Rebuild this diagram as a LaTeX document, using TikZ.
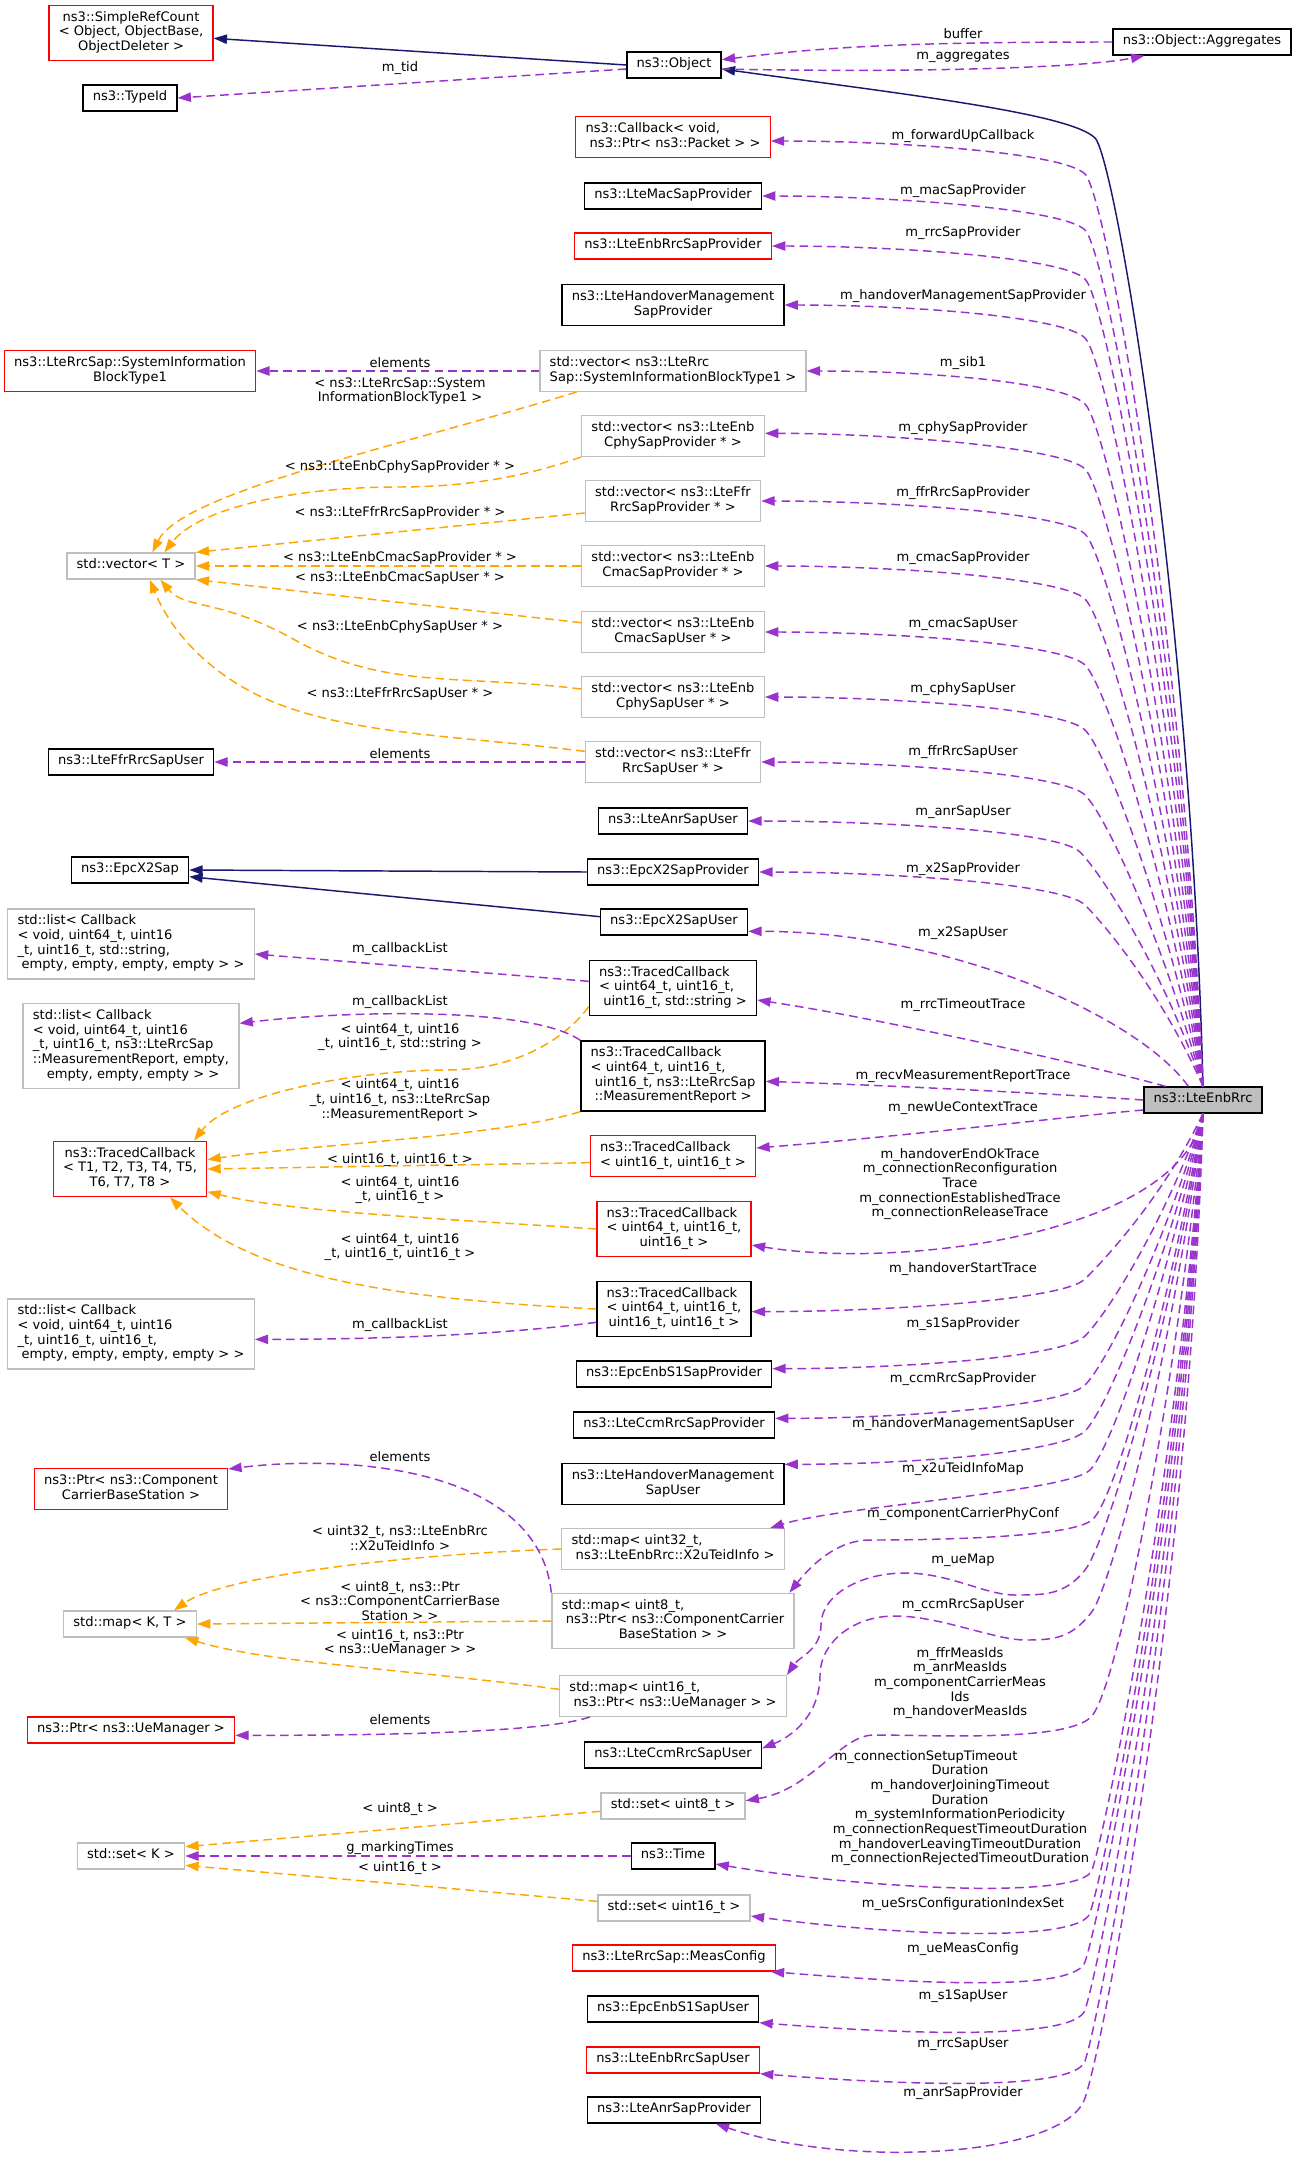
\documentclass[tikz,border=0pt]{standalone}
\usepackage{fontspec}
\setmainfont{DejaVu Sans}
\usetikzlibrary{arrows.meta}
\definecolor{membcol}{HTML}{9A32CD}
\definecolor{tmplcol}{HTML}{FFA500}
\definecolor{inhcol}{HTML}{191970}
\definecolor{extcol}{HTML}{BFBFBF}
\newcommand{\dxf}{\fontsize{9.8}{11}\selectfont}
\newcommand{\txtl}[1]{\begin{tabular}{@{}l@{}}#1\end{tabular}}
\newcommand{\txtc}[1]{\begin{tabular}{@{}c@{}}#1\end{tabular}}
\newcommand{\lastc}[1]{\multicolumn{1}{@{}c@{}}{#1}}

\begin{document}
\begin{tikzpicture}[
    x=0.75pt, y=-0.75pt,
    font=\dxf,
    cls/.style={draw, fill=white, line width=1pt, inner xsep=7.3pt, inner ysep=4.25pt},
    trunc/.style={draw=red},
    extern/.style={draw=extcol},
    memb/.style={draw=membcol, line width=1.1pt, dash pattern=on 6.5pt off 3.8pt,
                 -{Triangle[length=10pt, width=7pt]}},
    tmpl/.style={memb, draw=tmplcol},
    inh/.style={draw=inhcol, line width=1.1pt, -{Triangle[length=10pt, width=7pt]}},
    lbl/.style={align=center, inner sep=0pt}
  ]
  \useasboundingbox (0,0) rectangle (1296,2163);

  % --- left column ---
  \node[cls, trunc] (src) at (131,33) {\txtc{ns3::SimpleRefCount\\< Object, ObjectBase,\\ObjectDeleter >}};
  \node[cls] (tid) at (130,98) {\txtl{ns3::TypeId}};
  \node[cls, trunc] (sib) at (130,371) {\txtl{ns3::LteRrcSap::SystemInformation\\\lastc{BlockType1}}};
  \node[cls, extern] (vecT) at (131,566) {\txtl{std::vector< T >}};
  \node[cls] (lffru) at (131,762) {\txtl{ns3::LteFfrRrcSapUser}};
  \node[cls] (x2sap) at (130,870) {\txtl{ns3::EpcX2Sap}};
  \node[cls, extern] (list1) at (131,944) {\txtl{std::list< Callback\\< void, uint64\_t, uint16\\\_t, uint16\_t, std::string,\\\lastc{\ empty, empty, empty, empty > >}}};
  \node[cls, extern] (list2) at (131,1046) {\txtl{std::list< Callback\\< void, uint64\_t, uint16\\\_t, uint16\_t, ns3::LteRrcSap\\::MeasurementReport, empty,\\\lastc{\ empty, empty, empty > >}}};
  \node[cls, trunc] (tct) at (130,1169) {\txtc{ns3::TracedCallback\\< T1, T2, T3, T4, T5,\\T6, T7, T8 >}};
  \node[cls, extern] (list3) at (131,1334) {\txtl{std::list< Callback\\< void, uint64\_t, uint16\\\_t, uint16\_t, uint16\_t,\\\lastc{\ empty, empty, empty, empty > >}}};
  \node[cls, trunc] (pcc) at (131,1489) {\txtc{ns3::Ptr< ns3::Component\\CarrierBaseStation >}};
  \node[cls, extern] (mapKT) at (130,1624) {\txtl{std::map< K, T >}};
  \node[cls, trunc] (pum) at (131,1730) {\txtl{ns3::Ptr< ns3::UeManager >}};
  \node[cls, extern] (setK) at (131,1856) {\txtl{std::set< K >}};

  % --- middle column ---
  \node[cls] (obj) at (674,65) {\txtl{ns3::Object}};
  \node[cls, trunc] (cb) at (673,137) {\txtl{ns3::Callback< void,\\\lastc{\ ns3::Ptr< ns3::Packet > >}}};
  \node[cls] (macp) at (673,196) {\txtl{ns3::LteMacSapProvider}};
  \node[cls, trunc] (rrcp) at (673,246) {\txtl{ns3::LteEnbRrcSapProvider}};
  \node[cls] (hmp) at (673,305) {\txtl{ns3::LteHandoverManagement\\\lastc{SapProvider}}};
  \node[cls, extern] (vsib) at (673,371) {\txtl{std::vector< ns3::LteRrc\\\lastc{Sap::SystemInformationBlockType1 >}}};
  \node[cls, extern] (vcphyp) at (673,436) {\txtl{std::vector< ns3::LteEnb\\\lastc{CphySapProvider * >}}};
  \node[cls, extern] (vffrp) at (673,501) {\txtl{std::vector< ns3::LteFfr\\\lastc{RrcSapProvider * >}}};
  \node[cls, extern] (vcmacp) at (673,566) {\txtl{std::vector< ns3::LteEnb\\\lastc{CmacSapProvider * >}}};
  \node[cls, extern] (vcmacu) at (673,632) {\txtl{std::vector< ns3::LteEnb\\\lastc{CmacSapUser * >}}};
  \node[cls, extern] (vcphyu) at (673,697) {\txtl{std::vector< ns3::LteEnb\\\lastc{CphySapUser * >}}};
  \node[cls, extern] (vffru) at (673,762) {\txtl{std::vector< ns3::LteFfr\\\lastc{RrcSapUser * >}}};
  \node[cls] (anru) at (673,821) {\txtl{ns3::LteAnrSapUser}};
  \node[cls] (x2p) at (673,872) {\txtl{ns3::EpcX2SapProvider}};
  \node[cls] (x2u) at (674,922) {\txtl{ns3::EpcX2SapUser}};
  \node[cls] (tcstr) at (673,988) {\txtl{ns3::TracedCallback\\< uint64\_t, uint16\_t,\\\lastc{\ uint16\_t, std::string >}}};
  \node[cls] (tcmr) at (673,1076) {\txtl{ns3::TracedCallback\\< uint64\_t, uint16\_t,\\\ uint16\_t, ns3::LteRrcSap\\\lastc{::MeasurementReport >}}};
  \node[cls, trunc] (tcu16) at (673,1156) {\txtl{ns3::TracedCallback\\\lastc{< uint16\_t, uint16\_t >}}};
  \node[cls, trunc] (tcu64) at (674,1229) {\txtl{ns3::TracedCallback\\< uint64\_t, uint16\_t,\\\lastc{uint16\_t >}}};
  \node[cls] (tc4) at (674,1309) {\txtl{ns3::TracedCallback\\< uint64\_t, uint16\_t,\\\lastc{uint16\_t, uint16\_t >}}};
  \node[cls] (s1p) at (674,1374) {\txtl{ns3::EpcEnbS1SapProvider}};
  \node[cls] (ccmp) at (674,1425) {\txtl{ns3::LteCcmRrcSapProvider}};
  \node[cls] (hmu) at (673,1484) {\txtl{ns3::LteHandoverManagement\\\lastc{SapUser}}};
  \node[cls, extern] (m32) at (673,1549) {\txtl{std::map< uint32\_t,\\\lastc{\ ns3::LteEnbRrc::X2uTeidInfo >}}};
  \node[cls, extern] (m8) at (673,1621) {\txtl{std::map< uint8\_t,\\\ ns3::Ptr< ns3::ComponentCarrier\\\lastc{BaseStation > >}}};
  \node[cls, extern] (m16) at (673,1696) {\txtl{std::map< uint16\_t,\\\lastc{\ ns3::Ptr< ns3::UeManager > >}}};
  \node[cls] (ccmu) at (673,1755) {\txtl{ns3::LteCcmRrcSapUser}};
  \node[cls, extern] (s8) at (673,1806) {\txtl{std::set< uint8\_t >}};
  \node[cls] (time) at (673,1856) {\txtl{ns3::Time}};
  \node[cls, extern] (s16) at (674,1908) {\txtl{std::set< uint16\_t >}};
  \node[cls, trunc] (meas) at (674,1958) {\txtl{ns3::LteRrcSap::MeasConfig}};
  \node[cls] (s1u) at (673,2009) {\txtl{ns3::EpcEnbS1SapUser}};
  \node[cls, trunc] (rrcu) at (673,2060) {\txtl{ns3::LteEnbRrcSapUser}};
  \node[cls] (anrp) at (674,2110) {\txtl{ns3::LteAnrSapProvider}};

  % --- right column ---
  \node[cls] (agg) at (1202,42) {\txtl{ns3::Object::Aggregates}};
  \node[cls, fill=extcol] (rrc) at (1203,1100) {\txtl{ns3::LteEnbRrc}};

  % --- inheritance ---
  \draw[inh] (obj.west) -- ([yshift=-4pt]src.east);
  \draw[inh] (rrc.north) .. controls +(-12,-480) and +(20,20) .. (1095,138)
    .. controls +(-25,-25) and +(180,25) .. ([yshift=-3pt]obj.east);
  \draw[inh] (x2p.west) -- (x2sap.east);
  \draw[inh] ([yshift=4pt]x2u.west) -- ([yshift=-5pt]x2sap.east);

  % --- ns3::Object members ---
  \draw[memb] ([yshift=-3pt]obj.west) -- (tid.east);
  \draw[memb] (agg.west) .. controls +(-220,0) and +(100,-12) .. ([yshift=4pt]obj.east);
  \draw[memb] ([yshift=-3pt]obj.east) .. controls +(200,4) and +(-60,12) .. ([xshift=24pt]agg.south west);

  % --- members above ns3::LteEnbRrc ---
  \draw[memb] (rrc.north) .. controls +(-20,-456) and +(22,22) .. (1085,174) .. controls +(-22,-22) and +(120,0) .. ([yshift=-3pt]cb.east);
  \draw[memb] (rrc.north) .. controls +(-22,-428) and +(22,22) .. (1085,230) .. controls +(-22,-22) and +(120,0) .. (macp.east);
  \draw[memb] (rrc.north) .. controls +(-24,-404) and +(22,22) .. (1085,279) .. controls +(-22,-22) and +(120,0) .. (rrcp.east);
  \draw[memb] (rrc.north) .. controls +(-26,-374) and +(22,22) .. (1085,338) .. controls +(-22,-22) and +(120,0) .. (hmp.east);
  \draw[memb] (rrc.north) .. controls +(-28,-341) and +(22,22) .. (1085,404) .. controls +(-22,-22) and +(120,0) .. (vsib.east);
  \draw[memb] (rrc.north) .. controls +(-30,-309) and +(22,22) .. (1085,469) .. controls +(-22,-22) and +(120,0) .. ([yshift=2pt]vcphyp.east);
  \draw[memb] (rrc.north) .. controls +(-32,-276) and +(22,22) .. (1085,534) .. controls +(-22,-22) and +(120,0) .. (vffrp.east);
  \draw[memb] (rrc.north) .. controls +(-34,-244) and +(22,22) .. (1085,599) .. controls +(-22,-22) and +(120,0) .. (vcmacp.east);
  \draw[memb] (rrc.north) .. controls +(-36,-211) and +(22,22) .. (1085,665) .. controls +(-22,-22) and +(120,0) .. (vcmacu.east);
  \draw[memb] (rrc.north) .. controls +(-38,-178) and +(22,22) .. (1085,730) .. controls +(-22,-22) and +(120,0) .. (vcphyu.east);
  \draw[memb] (rrc.north) .. controls +(-40,-146) and +(22,22) .. (1085,795) .. controls +(-22,-22) and +(120,0) .. (vffru.east);
  \draw[memb] (rrc.north) .. controls +(-40,-117) and +(22,22) .. (1080,852) .. controls +(-22,-22) and +(120,0) .. (anru.east);
  \draw[memb] (rrc.north) .. controls +(-40,-91) and +(22,22) .. (1085,905) .. controls +(-22,-22) and +(120,0) .. (x2p.east);
  \draw[memb] ([xshift=-11pt]rrc.north) .. controls +(-50,-70) and +(200,0) .. ([yshift=-7pt]x2u.east);
  \draw[memb] ([xshift=-28pt]rrc.north) .. controls +(-80,-22) and +(120,18) .. ([yshift=-9pt]tcstr.east);
  \draw[memb] (rrc.west) .. controls +(-70,-5) and +(150,5) .. ([yshift=-4pt]tcmr.east);
  \draw[memb] ([yshift=-7.5pt]rrc.west) .. controls +(-70,6) and +(150,-12) .. ([yshift=6pt]tcu16.east);

  % --- members below ns3::LteEnbRrc ---
  \draw[memb] (rrc.south) .. controls +(-20,120) and +(150,25) .. ([yshift=-12pt]tcu64.east);
  \draw[memb] (rrc.south) .. controls +(-40,83) and +(22,-22) .. (1085,1279) .. controls +(-22,22) and +(120,0) .. ([yshift=-2pt]tc4.east);
  \draw[memb] (rrc.south) .. controls +(-40,112) and +(22,-22) .. (1085,1336) .. controls +(-22,22) and +(120,0) .. ([yshift=4pt]s1p.east);
  \draw[memb] (rrc.south) .. controls +(-40,136) and +(22,-22) .. (1085,1385) .. controls +(-22,22) and +(120,0) .. ([yshift=5pt]ccmp.east);
  \draw[memb] (rrc.south) .. controls +(-40,159) and +(22,-22) .. (1085,1431) .. controls +(-22,22) and +(120,0) .. ([yshift=-1pt]hmu.north east);
  \draw[memb] (rrc.south) .. controls +(-38,178) and +(22,-22) .. (1090,1470) .. controls +(-22,22) and +(70,-22) .. ([xshift=-11pt]m32.north east);
  \draw[memb] (rrc.south) .. controls +(-36,204) and +(22,-18) .. (1092,1520) .. controls +(-22,18) and +(60,0) .. (870,1540)
    .. controls +(-35,0) and +(20,-25) .. ([xshift=-4pt]m8.north east);
  \draw[memb] (rrc.south) .. controls +(-34,228) and +(20,-25) .. (1085,1570) .. controls +(-20,25) and +(30,0) .. (1015,1595)
    .. controls +(-30,0) and +(45,0) .. (905,1573) .. controls +(-45,0) and +(0,-30) .. (821,1625)
    .. controls +(0,25) and +(12,-18) .. (m16.north east);
  \draw[memb] (rrc.south) .. controls +(-32,250) and +(20,-25) .. (1091,1613) .. controls +(-20,25) and +(30,0) .. (1025,1640)
    .. controls +(-30,0) and +(45,0) .. (895,1616) .. controls +(-45,0) and +(0,-30) .. (820,1675)
    .. controls +(0,40) and +(30,-12) .. ([yshift=5pt]ccmu.east);
  \draw[memb] (rrc.south) .. controls +(-30,302) and +(25,-25) .. (1091,1717) .. controls +(-25,25) and +(60,0) .. (874,1735)
    .. controls +(-34,0) and +(66,-11) .. ([yshift=4pt]s8.east);
  \draw[memb] (rrc.south) .. controls +(-28,378) and +(15,-45) .. (1092,1870) .. controls +(-10,30) and +(150,25) .. ([yshift=-6pt]time.east);
  \draw[memb] (rrc.south) .. controls +(-26,400) and +(15,-45) .. (1090,1913) .. controls +(-10,30) and +(150,20) .. ([yshift=-6pt]s16.east);
  \draw[memb] (rrc.south) .. controls +(-24,424) and +(15,-45) .. (1085,1962) .. controls +(-10,30) and +(150,12) .. ([xshift=-4pt]meas.south east);
  \draw[memb] (rrc.south) .. controls +(-22,448) and +(15,-45) .. (1085,2010) .. controls +(-10,30) and +(150,12) .. (s1u.south east);
  \draw[memb] (rrc.south) .. controls +(-20,474) and +(15,-45) .. (1085,2061) .. controls +(-10,30) and +(150,12) .. (rrcu.south east);
  \draw[memb] (rrc.south) .. controls +(-15,492) and +(20,-60) .. (1085,2098) .. controls +(-20,60) and +(130,45) .. ([xshift=-34pt]anrp.south east);

  % --- template instances ---
  \draw[tmpl] ([xshift=28pt]vsib.south west) .. controls +(-180,55) and +(30,-60) .. ([xshift=16pt]vecT.north);
  \draw[tmpl] (vcphyp.south west) .. controls +(-70,25) and +(50,0) .. (397,487)
    .. controls +(-100,0) and +(35,-45) .. ([xshift=25pt]vecT.north);
  \draw[tmpl] ([yshift=-9pt]vffrp.west) -- (vecT.north east);
  \draw[tmpl] (vcmacp.west) -- (vecT.east);
  \draw[tmpl] ([yshift=7pt]vcmacu.west) -- (vecT.south east);
  \draw[tmpl] ([yshift=6pt]vcphyu.west) .. controls +(-120,-15) and +(90,50) .. (295,640)
    .. controls +(-75,-42) and +(25,30) .. ([xshift=22pt]vecT.south);
  \draw[tmpl] ([yshift=8pt]vffru.west) .. controls +(-120,-15) and +(80,30) .. (281,705)
    .. controls +(-60,-22) and +(25,60) .. ([xshift=14pt]vecT.south);
  \draw[tmpl] ([yshift=-14pt]tcstr.west) .. controls +(-30,40) and +(60,0) .. (446,1070)
    .. controls +(-86,0) and +(36,-47) .. ([xshift=48pt]tct.north);
  \draw[tmpl] (tcmr.south west) .. controls +(-80,25) and +(100,-15) .. ([yshift=7pt]tct.east);
  \draw[tmpl] ([yshift=-5pt]tcu16.west) -- (tct.east);
  \draw[tmpl] (tcu64.west) .. controls +(-150,-10) and +(80,20) .. ([yshift=-17pt]tct.east);
  \draw[tmpl] (tc4.west) .. controls +(-200,-10) and +(80,80) .. ([xshift=30pt]tct.south);
  \draw[tmpl] (m32.west) .. controls +(-150,5) and +(50,-35) .. ([xshift=33pt]mapKT.north);
  \draw[tmpl] (m8.west) -- (mapKT.east);
  \draw[tmpl] ([yshift=5pt]m16.west) .. controls +(-150,-20) and +(80,25) .. ([xshift=-9pt]mapKT.south east);
  \draw[tmpl] ([yshift=-4pt]s8.west) -- ([yshift=7pt]setK.east);
  \draw[tmpl] ([yshift=5pt]s16.west) -- ([yshift=-7pt]setK.east);

  % --- other members ---
  \draw[memb] (vsib.west) -- (sib.east);
  \draw[memb] (vffru.west) -- (lffru.east);
  \draw[memb] ([yshift=5pt]tcstr.west) -- ([yshift=-7.5pt]list1.east);
  \draw[memb] (tcmr.north west) .. controls +(-50,-35) and +(100,-12) .. ([yshift=17pt]list2.east);
  \draw[memb] ([yshift=-10pt]tc4.west) .. controls +(-100,13) and +(120,0) .. ([yshift=-4pt]list3.east);
  \draw[memb] (m8.north west) .. controls +(-13,-125) and +(120,-15) .. ([yshift=15pt]pcc.east);
  \draw[memb] ([xshift=23pt]m16.south west) .. controls +(-50,17) and +(120,0) .. ([yshift=-4pt]pum.east);
  \draw[memb] (time.west) -- (setK.east);

  % --- labels, right ---
  \node[lbl] (l1) at (963,34) {buffer};
  \node[lbl] (l2) at (963,56) {m\_aggregates};
  \node[lbl] (l3) at (963,136) {m\_forwardUpCallback};
  \node[lbl] (l4) at (963,191) {m\_macSapProvider};
  \node[lbl] (l5) at (963,233) {m\_rrcSapProvider};
  \node[lbl] (l6) at (963,296) {m\_handoverManagementSapProvider};
  \node[lbl] (l7) at (963,363) {m\_sib1};
  \node[lbl] (l8) at (963,428) {m\_cphySapProvider};
  \node[lbl] (l9) at (963,493) {m\_ffrRrcSapProvider};
  \node[lbl] (l10) at (963,558) {m\_cmacSapProvider};
  \node[lbl] (l11) at (963,624) {m\_cmacSapUser};
  \node[lbl] (l12) at (963,689) {m\_cphySapUser};
  \node[lbl] (l13) at (963,752) {m\_ffrRrcSapUser};
  \node[lbl] (l14) at (963,812) {m\_anrSapUser};
  \node[lbl] (l15) at (963,869) {m\_x2SapProvider};
  \node[lbl] (l16) at (963,933) {m\_x2SapUser};
  \node[lbl] (l17) at (963,1005) {m\_rrcTimeoutTrace};
  \node[lbl] (l18) at (963,1076) {m\_recvMeasurementReportTrace};
  \node[lbl] (l19) at (963,1108) {m\_newUeContextTrace};
  \node[lbl] (l20) at (960,1184) {m\_handoverEndOkTrace\\m\_connectionReconfiguration\\Trace\\m\_connectionEstablishedTrace\\m\_connectionReleaseTrace};
  \node[lbl] (l21) at (963,1269) {m\_handoverStartTrace};
  \node[lbl] (l22) at (963,1324) {m\_s1SapProvider};
  \node[lbl] (l23) at (963,1379) {m\_ccmRrcSapProvider};
  \node[lbl] (l24) at (963,1424) {m\_handoverManagementSapUser};
  \node[lbl] (l25) at (963,1469) {m\_x2uTeidInfoMap};
  \node[lbl] (l26) at (963,1514) {m\_componentCarrierPhyConf};
  \node[lbl] (l27) at (963,1560) {m\_ueMap};
  \node[lbl] (l28) at (963,1605) {m\_ccmRrcSapUser};
  \node[lbl] (l29) at (960,1683) {m\_ffrMeasIds\\m\_anrMeasIds\\m\_componentCarrierMeas\\Ids\\m\_handoverMeasIds};
  \node[lbl] (l30) at (960,1808) {m\_connectionSetupTimeout\hspace*{51pt}\\Duration\\m\_handoverJoiningTimeout\hspace*{58pt}\\Duration\\m\_systemInformationPeriodicity\\m\_connectionRequestTimeoutDuration\\m\_handoverLeavingTimeoutDuration\\m\_connectionRejectedTimeoutDuration};
  \node[lbl] (l31) at (963,1904) {m\_ueSrsConfigurationIndexSet};
  \node[lbl] (l32) at (963,1949) {m\_ueMeasConfig};
  \node[lbl] (l33) at (963,1996) {m\_s1SapUser};
  \node[lbl] (l34) at (963,2044) {m\_rrcSapUser};
  \node[lbl] (l35) at (963,2093) {m\_anrSapProvider};

  % --- labels, left ---
  \node[lbl] (l36) at (400,68) {m\_tid};
  \node[lbl] (l37) at (400,363) {elements};
  \node[lbl] (l38) at (400,391) {< ns3::LteRrcSap::System\\InformationBlockType1 >};
  \node[lbl] (l39) at (400,467) {< ns3::LteEnbCphySapProvider * >};
  \node[lbl] (l40) at (400,513) {< ns3::LteFfrRrcSapProvider * >};
  \node[lbl] (l41) at (400,558) {< ns3::LteEnbCmacSapProvider * >};
  \node[lbl] (l42) at (400,578) {< ns3::LteEnbCmacSapUser * >};
  \node[lbl] (l43) at (400,627) {< ns3::LteEnbCphySapUser * >};
  \node[lbl] (l44) at (400,694) {< ns3::LteFfrRrcSapUser * >};
  \node[lbl] (l45) at (400,754) {elements};
  \node[lbl] (l46) at (400,949) {m\_callbackList};
  \node[lbl] (l47) at (400,1002) {m\_callbackList};
  \node[lbl] (l48) at (400,1037) {< uint64\_t, uint16\\\_t, uint16\_t, std::string >};
  \node[lbl] (l49) at (400,1100) {< uint64\_t, uint16\\\_t, uint16\_t, ns3::LteRrcSap\\::MeasurementReport >};
  \node[lbl] (l50) at (400,1160) {< uint16\_t, uint16\_t >};
  \node[lbl] (l51) at (400,1190) {< uint64\_t, uint16\\\_t, uint16\_t >};
  \node[lbl] (l52) at (400,1247) {< uint64\_t, uint16\\\_t, uint16\_t, uint16\_t >};
  \node[lbl] (l53) at (400,1325) {m\_callbackList};
  \node[lbl] (l54) at (400,1457) {elements};
  \node[lbl] (l55) at (400,1538) {< uint32\_t, ns3::LteEnbRrc\\::X2uTeidInfo >};
  \node[lbl] (l56) at (400,1601) {< uint8\_t, ns3::Ptr\\< ns3::ComponentCarrierBase\\Station > >};
  \node[lbl] (l57) at (400,1643) {< uint16\_t, ns3::Ptr\\< ns3::UeManager > >};
  \node[lbl] (l58) at (400,1720) {elements};
  \node[lbl] (l59) at (400,1809) {< uint8\_t >};
  \node[lbl] (l60) at (400,1848) {g\_markingTimes};
  \node[lbl] (l61) at (400,1868) {< uint16\_t >};

\end{tikzpicture}
\end{document}
